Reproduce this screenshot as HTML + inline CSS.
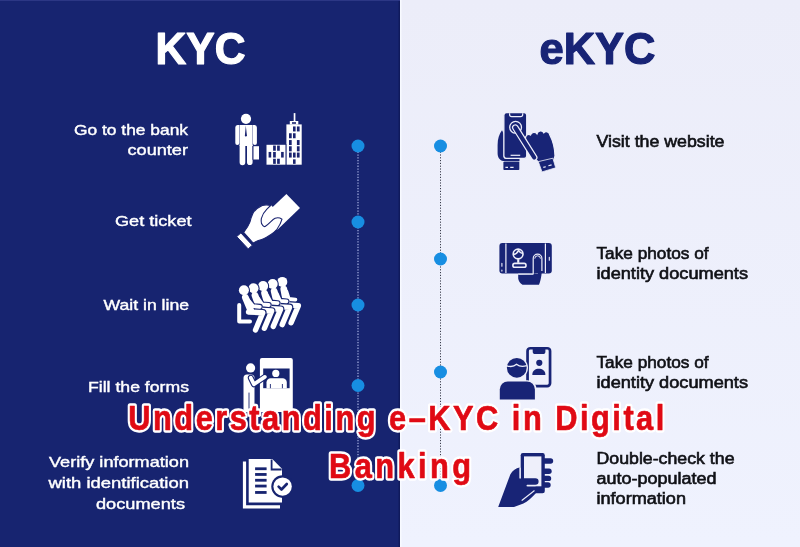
<!DOCTYPE html>
<html><head><meta charset="utf-8">
<style>
html,body{margin:0;padding:0;width:800px;height:547px;overflow:hidden;background:#eeeffa}
svg{position:absolute;left:0;top:0;display:block;will-change:transform}
text{font-family:"Liberation Sans",sans-serif}
</style></head>
<body>
<svg width="800" height="547" viewBox="0 0 800 547">
  <rect x="0" y="0" width="400" height="547" fill="#172470"/>
  <defs><linearGradient id="lg" x1="0" y1="0" x2="0" y2="1"><stop offset="0" stop-color="#ecedf9"/><stop offset="1" stop-color="#eff2fe"/></linearGradient></defs>
  <rect x="400" y="0" width="400" height="547" fill="url(#lg)"/>
  <rect x="398.5" y="0" width="1.5" height="547" fill="#101a5c"/>
  <rect x="400" y="0" width="1.5" height="547" fill="#f8faff"/>
  <rect x="0" y="0" width="400" height="1" fill="#2c3785"/>

  <text x="155.5" y="63.5" font-size="44.5" font-weight="700" fill="#ffffff" stroke="#ffffff" stroke-width="1.2" stroke-linejoin="round" textLength="90" lengthAdjust="spacingAndGlyphs">KYC</text>
  <text x="539.5" y="63.5" font-size="44.5" font-weight="700" fill="#182476" stroke="#182476" stroke-width="1.2" stroke-linejoin="round" textLength="116" lengthAdjust="spacingAndGlyphs">eKYC</text>

  <line x1="358" y1="146" x2="358" y2="485" stroke="#b4bcec" stroke-width="1.1" stroke-dasharray="1.3 1.5"/>
  <line x1="440.5" y1="146" x2="440.5" y2="485" stroke="#3a3d4c" stroke-width="1" stroke-dasharray="1.2 1.6"/>
  <g fill="#178ee2">
    <circle cx="358" cy="146" r="6.5"/>
    <circle cx="358" cy="222" r="6.5"/>
    <circle cx="358" cy="305" r="6.5"/>
    <circle cx="358" cy="385.5" r="6.5"/>
    <circle cx="358" cy="485.5" r="6.5"/>
    <circle cx="440.5" cy="146" r="6.5"/>
    <circle cx="440.5" cy="259" r="6.5"/>
    <circle cx="440.5" cy="372" r="6.5"/>
    <circle cx="440.5" cy="485.5" r="6.5"/>
  </g>

  <g fill="#ffffff" font-size="15" text-anchor="end" stroke="#ffffff" stroke-width="0.4">
    <text x="188" y="134.6" textLength="114" lengthAdjust="spacingAndGlyphs">Go to the bank</text>
    <text x="188" y="155.2" textLength="60.5" lengthAdjust="spacingAndGlyphs">counter</text>
    <text x="191.5" y="226.4" textLength="76.5" lengthAdjust="spacingAndGlyphs">Get ticket</text>
    <text x="189" y="309.8" textLength="85.5" lengthAdjust="spacingAndGlyphs">Wait in line</text>
    <text x="189" y="392.4" textLength="101" lengthAdjust="spacingAndGlyphs">Fill the forms</text>
    <text x="189" y="467.4" textLength="140" lengthAdjust="spacingAndGlyphs">Verify information</text>
    <text x="189" y="488" textLength="140.5" lengthAdjust="spacingAndGlyphs">with identification</text>
    <text x="185" y="508.6" textLength="89" lengthAdjust="spacingAndGlyphs">documents</text>
  </g>

  <g fill="#101116" font-size="16" stroke="#101116" stroke-width="0.6">
    <text x="596.5" y="146.5" textLength="128" lengthAdjust="spacingAndGlyphs">Visit the website</text>
    <text x="596.5" y="258.6" textLength="112" lengthAdjust="spacingAndGlyphs">Take photos of</text>
    <text x="596.5" y="278.9" textLength="151.5" lengthAdjust="spacingAndGlyphs">identity documents</text>
    <text x="596.5" y="367.5" textLength="112" lengthAdjust="spacingAndGlyphs">Take photos of</text>
    <text x="596.5" y="387.8" textLength="151.5" lengthAdjust="spacingAndGlyphs">identity documents</text>
    <text x="596.5" y="463.6" textLength="138" lengthAdjust="spacingAndGlyphs">Double-check the</text>
    <text x="596.5" y="483.9" textLength="120" lengthAdjust="spacingAndGlyphs">auto-populated</text>
    <text x="596.5" y="504.1" textLength="89.5" lengthAdjust="spacingAndGlyphs">information</text>
  </g>

  <!-- icon1: man + buildings -->
  <g fill="#ffffff">
    <circle cx="246" cy="118.8" r="5.1"/>
    <path d="M239.6 125 H252.6 V146 H239.6 Z"/>
    <path d="M237.5 125 H239.3 V143 a2 2 0 0 1 -4 0 V127.5 a2.5 2.5 0 0 1 2.2 -2.5 Z"/>
    <path d="M254.7 125 H252.9 V143 a2 2 0 0 0 4 0 V127.5 a2.5 2.5 0 0 0 -2.2 -2.5 Z"/>
    <path d="M239.6 145 H245.3 V162.3 a2.85 2.85 0 0 1 -5.7 0 Z"/>
    <path d="M247 145 H252.6 V162.3 a2.8 2.8 0 0 1 -5.6 0 Z"/>
    <rect x="253.2" y="146.2" width="5.8" height="13.3"/>
  </g>
  <path d="M245.8 125.5 L244.9 135.2 L245.9 137 L246.9 135.2 Z" fill="#1a2470"/>
  <path d="M252.9 146 V159.8" stroke="#1a2470" stroke-width="0.9"/>
  <g fill="#ffffff">
    <rect x="266.5" y="144.8" width="19.3" height="19.9"/>
    <rect x="286.4" y="124.4" width="15.3" height="40.3"/>
    <rect x="289.8" y="121" width="8.5" height="3.6"/>
    <rect x="293.7" y="113.1" width="1.7" height="8"/>
  </g>
  <g fill="#1a2470">
    <rect x="285.6" y="144" width="0.8" height="21"/>
    <rect x="292" y="122.2" width="4" height="1.6"/>
    <rect x="273.1" y="145.55" width="2.7" height="5.2"/><rect x="277.1" y="145.55" width="2.7" height="5.2"/>
    <rect x="268.6" y="151.95" width="2.6" height="5.6"/><rect x="273.1" y="151.95" width="2.7" height="5.6"/><rect x="281.1" y="151.95" width="2.6" height="5.6"/>
    <rect x="273.1" y="158.75" width="2.7" height="5.1"/><rect x="277.1" y="158.75" width="2.7" height="5.1"/>
    <rect x="293.0" y="126.45" width="2.6" height="5.0"/><rect x="296.9" y="126.45" width="2.7" height="5.0"/>
    <rect x="289.0" y="133.25" width="2.7" height="5.0"/><rect x="293.0" y="133.25" width="2.6" height="5.0"/>
    <rect x="289.0" y="140.05" width="2.7" height="5.0"/><rect x="296.9" y="140.05" width="2.7" height="5.0"/>
    <rect x="289.0" y="146.25" width="2.7" height="5.1"/><rect x="296.9" y="146.25" width="2.7" height="5.1"/>
    <rect x="289.0" y="152.55" width="2.7" height="5.0"/><rect x="293.0" y="152.55" width="2.6" height="5.0"/><rect x="296.9" y="152.55" width="2.7" height="5.0"/>
    <rect x="293.0" y="159.35" width="2.6" height="4.5"/>
  </g>

  <!-- icon2: hand + ticket -->
  <path d="M286.4 194 L300 208.1 L277.4 229.7 L263.8 215.6 Z" fill="#ffffff"/>
  <path d="M261 214 L270.8 205 L278 212 L270 227 L261 227 Z" fill="#ffffff"/>
  <path d="M243.6 232.4 C246 229.5 248.8 225 250 221.9 C250.6 219 251 217.5 253.2 212.8 C255 210 257.8 207.5 262.3 205.5 C265 204.6 268 204.7 270.6 205.5 L266.9 209.1 C264.5 211.5 262.3 214.5 261.4 218.3 C261 221 261.5 224 262.3 224.7 C263 226.2 264.5 226.8 265.1 226.5 C267.5 225 269 223.5 270.6 221.9 C272.5 220 274 218.8 275.1 218.3 C277 217.6 279.5 217.5 282 219.2 C281 223 279 226.5 277 229.3 C275 231.5 273 233.3 270.6 234.7 C268.5 236 266.5 237.3 264.2 238.4 C262 239.4 260 240 257.8 240.7 C256 241.5 254.5 242.3 253.2 243 Z" fill="#ffffff" stroke="#1a2470" stroke-width="1.1" stroke-linejoin="round"/>
  <path d="M236.7 236.6 L240.9 232.9 L252.3 245.2 L248.2 248.9 Z" fill="#ffffff" stroke="#1a2470" stroke-width="1" stroke-linejoin="round"/>

  
<g stroke-linecap="round" stroke-linejoin="round">
<circle cx="282.30" cy="281.90" r="6.10" fill="#172470"/>
<path d="M283.80 289.10 L286.40 303.30" stroke="#172470" stroke-width="9.0" fill="none"/>
<path d="M286.40 291.60 L288.80 299.00 L295.40 299.60" stroke="#172470" stroke-width="6.0" fill="none"/>
<path d="M284.10 304.80 L298.40 305.60 L291.10 322.80" stroke="#172470" stroke-width="7.6000000000000005" fill="none"/>
<circle cx="282.30" cy="281.90" r="5.00" fill="#ffffff"/>
<path d="M283.80 289.10 L286.40 303.30" stroke="#ffffff" stroke-width="6.8" fill="none"/>
<path d="M286.40 291.60 L288.80 299.00 L295.40 299.60" stroke="#ffffff" stroke-width="3.8" fill="none"/>
<path d="M284.10 304.80 L298.40 305.60 L291.10 322.80" stroke="#ffffff" stroke-width="5.4" fill="none"/>
<circle cx="272.70" cy="284.00" r="6.10" fill="#172470"/>
<path d="M274.20 291.20 L277.50 305.10" stroke="#172470" stroke-width="9.0" fill="none"/>
<path d="M276.80 293.70 L279.90 300.80 L286.50 301.40" stroke="#172470" stroke-width="6.0" fill="none"/>
<path d="M275.20 306.60 L289.50 307.40 L282.20 324.60" stroke="#172470" stroke-width="7.6000000000000005" fill="none"/>
<circle cx="272.70" cy="284.00" r="5.00" fill="#ffffff"/>
<path d="M274.20 291.20 L277.50 305.10" stroke="#ffffff" stroke-width="6.8" fill="none"/>
<path d="M276.80 293.70 L279.90 300.80 L286.50 301.40" stroke="#ffffff" stroke-width="3.8" fill="none"/>
<path d="M275.20 306.60 L289.50 307.40 L282.20 324.60" stroke="#ffffff" stroke-width="5.4" fill="none"/>
<circle cx="263.10" cy="286.10" r="6.10" fill="#172470"/>
<path d="M264.60 293.30 L268.60 306.90" stroke="#172470" stroke-width="9.0" fill="none"/>
<path d="M267.20 295.80 L271.00 302.60 L277.60 303.20" stroke="#172470" stroke-width="6.0" fill="none"/>
<path d="M266.30 308.40 L280.60 309.20 L273.30 326.40" stroke="#172470" stroke-width="7.6000000000000005" fill="none"/>
<circle cx="263.10" cy="286.10" r="5.00" fill="#ffffff"/>
<path d="M264.60 293.30 L268.60 306.90" stroke="#ffffff" stroke-width="6.8" fill="none"/>
<path d="M267.20 295.80 L271.00 302.60 L277.60 303.20" stroke="#ffffff" stroke-width="3.8" fill="none"/>
<path d="M266.30 308.40 L280.60 309.20 L273.30 326.40" stroke="#ffffff" stroke-width="5.4" fill="none"/>
<circle cx="253.50" cy="288.20" r="6.10" fill="#172470"/>
<path d="M255.00 295.40 L259.70 308.70" stroke="#172470" stroke-width="9.0" fill="none"/>
<path d="M257.60 297.90 L262.10 304.40 L268.70 305.00" stroke="#172470" stroke-width="6.0" fill="none"/>
<path d="M257.40 310.20 L271.70 311.00 L264.40 328.20" stroke="#172470" stroke-width="7.6000000000000005" fill="none"/>
<circle cx="253.50" cy="288.20" r="5.00" fill="#ffffff"/>
<path d="M255.00 295.40 L259.70 308.70" stroke="#ffffff" stroke-width="6.8" fill="none"/>
<path d="M257.60 297.90 L262.10 304.40 L268.70 305.00" stroke="#ffffff" stroke-width="3.8" fill="none"/>
<path d="M257.40 310.20 L271.70 311.00 L264.40 328.20" stroke="#ffffff" stroke-width="5.4" fill="none"/>
<circle cx="243.90" cy="290.30" r="6.10" fill="#172470"/>
<path d="M245.40 297.50 L250.80 310.50" stroke="#172470" stroke-width="9.0" fill="none"/>
<path d="M248.00 300.00 L253.20 306.20 L259.80 306.80" stroke="#172470" stroke-width="6.0" fill="none"/>
<path d="M248.50 312.00 L262.80 312.80 L255.50 330.00" stroke="#172470" stroke-width="7.6000000000000005" fill="none"/>
<circle cx="243.90" cy="290.30" r="5.00" fill="#ffffff"/>
<path d="M245.40 297.50 L250.80 310.50" stroke="#ffffff" stroke-width="6.8" fill="none"/>
<path d="M248.00 300.00 L253.20 306.20 L259.80 306.80" stroke="#ffffff" stroke-width="3.8" fill="none"/>
<path d="M248.50 312.00 L262.80 312.80 L255.50 330.00" stroke="#ffffff" stroke-width="5.4" fill="none"/>
<path d="M239.2 305 V321.5 H250" stroke="#172470" stroke-width="6.2" fill="none"/>
<path d="M239.2 305 V321.5 H250" stroke="#ffffff" stroke-width="4" fill="none"/>
</g>

  <!-- icon4: fill the forms -->
  <path d="M259.9 360 a2 2 0 0 1 2 -2 H290.8 a2 2 0 0 1 2 2 V412 H259.9 Z" fill="#fff"/>
  <rect x="263.2" y="368.5" width="26.4" height="19.7" fill="#172470"/>
  <path d="M266.5 388.2 V382.5 a4.2 4.2 0 0 1 4.2 -4.2 H282.6 a4.2 4.2 0 0 1 4.2 4.2 V388.2 Z" fill="#fff"/>
  <path d="M270.4 384 V388.2 M282.4 384 V388.2" stroke="#172470" stroke-width="0.9"/>
  <circle cx="275.8" cy="373.4" r="4.5" fill="#172470"/>
  <circle cx="275.8" cy="373.4" r="3.6" fill="#fff"/>
  <circle cx="250.6" cy="367.9" r="4.6" fill="#fff"/>
  <path d="M243.5 378 a3.5 3.5 0 0 1 3.5 -3.5 H251 a3.5 3.5 0 0 1 3.5 3.5 V412 H243.5 Z" fill="#fff"/>
  <path d="M249 392.6 V412" stroke="#172470" stroke-width="0.9"/>
  <path d="M250.8 377.8 L254 384.3 L264.8 376.9" stroke="#172470" stroke-width="6" fill="none" stroke-linecap="round" stroke-linejoin="round"/>
  <path d="M250.8 377.8 L254 384.3 L264.8 376.9" stroke="#fff" stroke-width="3.8" fill="none" stroke-linecap="round" stroke-linejoin="round"/>


  <!-- icon5: documents -->
  <path d="M242.9 461.6 H246.1 V505.2 H280 V508.4 H242.9 Z" fill="#fff"/>
  <path d="M248.7 459.1 H272.3 L282 468.8 V502.6 H248.7 Z" fill="#fff"/>
  <path d="M271.6 459.5 V469.5 H281.6" stroke="#172470" stroke-width="1.8" fill="none"/>
  <g fill="#172470">
    <rect x="255.1" y="467.35" width="11.5" height="2.8"/>
    <rect x="255.1" y="473.05" width="11.5" height="2.8"/>
    <rect x="255.1" y="478.85" width="11.5" height="2.8"/>
    <rect x="255.1" y="484.65" width="11.5" height="2.8"/>
    <rect x="255.1" y="491.05" width="11.5" height="2.8"/>
  </g>
  <circle cx="282.6" cy="486.6" r="11.3" fill="#172470"/>
  <circle cx="282.6" cy="486.6" r="9.2" fill="#fff"/>
  <path d="M278.6 486.6 L281.5 489.5 L286.8 484" stroke="#172470" stroke-width="2.6" fill="none" stroke-linecap="round" stroke-linejoin="round"/>


  <!-- R1: phone tap -->
  <path d="M502 130.3 C499.2 133.8 497.6 139 497.6 145 V153.5 C497.6 158 500.5 161.2 505 161.2 H519.5 V159 H506 C504.5 159 503.5 157.5 503.5 156 V136 C503.5 133.8 503 131.6 502 130.3 Z" fill="#182476"/>
  <rect x="503.9" y="112.7" width="22.8" height="45.6" rx="2.6" fill="#182476" stroke="#eeeffa" stroke-width="1.2"/>
  <path d="M509.6 113.2 V114.6 a2.1 2.1 0 0 0 2.1 2.1 H520.6 a2.1 2.1 0 0 0 2.1 -2.1 V113.2" stroke="#eeeffa" stroke-width="1.2" fill="none"/>
  <path d="M510.6 155.3 H520.2" stroke="#eeeffa" stroke-width="1.2"/>
  <rect x="503.4" y="161.8" width="15.9" height="8.2" rx="0.8" fill="#182476"/>
  <path d="M505.4 167.4 H508 M510.2 167.4 H513.6" stroke="#eeeffa" stroke-width="1.1"/>
  <circle cx="515.6" cy="127.3" r="5.9" fill="none" stroke="#eeeffa" stroke-width="1.3"/>
  <path d="M525.5 139 C525 135.5 528 133.5 530.5 135 C531.5 131.8 535.5 131.5 537 133.8 C538 130.3 542.5 130 543.8 132.8 C545.5 130.8 549.5 131.5 549.8 135 C552.5 140 554.8 148 555 156 L553.5 161 L538.5 162 C535 159.5 532 156 529.5 152 Z" fill="#182476" stroke="#eeeffa" stroke-width="1.2"/>
  <path d="M515.3 127.6 L534.2 157.5" stroke="#eeeffa" stroke-width="6.6" stroke-linecap="round"/>
  <path d="M515.3 127.6 L534.2 157.5" stroke="#182476" stroke-width="4.2" stroke-linecap="round"/>
  <path d="M538.3 161.6 L552.9 158.2 L555.7 167.8 L542 171.9 Z" fill="#182476" stroke="#eeeffa" stroke-width="0.8"/>
  <path d="M543.3 167.4 L545.8 166.7 M548.4 165.8 L551.6 164.9" stroke="#eeeffa" stroke-width="1.1"/>

  <!-- R2: landscape phone -->
  <rect x="499.4" y="242.9" width="52.4" height="30.6" rx="3" fill="#182476"/>
  <path d="M505.9 243.4 V273 M545.4 243.4 V273" stroke="#eeeffa" stroke-width="1.2"/>
  <path d="M501.9 263.2 V266.2 M501.9 270.1 V271.1 M549.3 257.2 V260.2" stroke="#eeeffa" stroke-width="1.1" stroke-linecap="round"/>
  <circle cx="518.1" cy="254" r="4.9" fill="none" stroke="#eeeffa" stroke-width="1.6"/>
  <path d="M513.6 254.6 C515.6 254.2 517.6 252.6 518.6 250.4 C519.6 252.3 521 253.3 522.8 253.6" stroke="#eeeffa" stroke-width="1.5" fill="none"/>
  <rect x="517.2" y="259.2" width="2.1" height="3.6" fill="#eeeffa"/>
  <rect x="512.9" y="263.4" width="13.1" height="3.8" rx="1.8" fill="none" stroke="#eeeffa" stroke-width="1.6"/>
  <path d="M518.2 274.2 V278.6 C518.5 281 520 283.5 522.5 284.8 H539 C540.3 282 541.3 277 541.8 272 V261 H538 V273.8 Z" fill="#182476"/>
  <path d="M518.2 274.2 H533.5" stroke="#eeeffa" stroke-width="1.2"/>
  <path d="M533.2 274 V258.5 a4.35 4.35 0 0 1 8.7 0 V271" fill="#182476" stroke="#eeeffa" stroke-width="1.2"/>
  <path d="M534.8 258.6 a2.8 2.8 0 0 1 5.6 0" stroke="#eeeffa" stroke-width="1" fill="none"/>

  <!-- R3: selfie -->
  <rect x="527.55" y="348.25" width="22.5" height="37.9" rx="2.8" fill="none" stroke="#182476" stroke-width="2.7"/>
  <path d="M532.7 348 H545.4 V351.5 a2.6 2.6 0 0 1 -2.6 2.6 H535.3 a2.6 2.6 0 0 1 -2.6 -2.6 Z" fill="#182476"/>
  <circle cx="539.3" cy="362.8" r="3.1" fill="#182476"/>
  <path d="M532.3 374.9 C532.3 370.5 535.5 368.8 538.8 368.8 C542.2 368.8 545.4 370.5 545.4 374.9 Z" fill="#182476"/>
  <circle cx="516.8" cy="367.8" r="11.2" fill="#eeeffa"/>
  <path d="M498.4 399.8 V389 a8.8 8.8 0 0 1 8.8 -8.8 H527.6 a8.8 8.8 0 0 1 8.8 8.8 V399.8 Z" fill="#eeeffa"/>
  <circle cx="516.8" cy="367.8" r="9.9" fill="#182476"/>
  <path d="M506.8 365.8 C510 366.8 514 366.6 516.5 364.3 C519 366.3 523 366.8 526.8 365.6" stroke="#eeeffa" stroke-width="1.3" fill="none"/>
  <path d="M499.8 399.6 V389.5 a8 8 0 0 1 8 -8 H526.9 a8 8 0 0 1 8 8 V399.6 Z" fill="#182476"/>

  <!-- R4: hand holding phone -->
  <rect x="520.7" y="453.1" width="24.1" height="40.1" rx="2.2" fill="#182476"/>
  <rect x="524" y="456.4" width="17.4" height="29.9" fill="#eeeffa"/>
  <g fill="#182476">
    <path d="M544 458.3 H550.5 a2.7 2.7 0 0 1 0 5.4 H544 Z"/>
    <path d="M544 468.6 H549 a2.7 2.7 0 0 1 0 5.4 H544 Z"/>
    <path d="M544 475.7 H548.5 a2.7 2.7 0 0 1 0 5.4 H544 Z"/>
    <path d="M544 482.3 H548 a2.7 2.7 0 0 1 0 5.4 H544 Z"/>
    <path d="M498.2 507 L510.3 474.5 C512.5 470.5 516 468.3 519.6 467.6 V478.2 H535.3 a3.3 3.3 0 0 1 0 6.6 H527 V486.5 L536 493 C532 497.5 527.5 501.5 523.4 503.5 L514 507 Z"/>
  </g>
  <path d="M520.15 467.8 V478.4 M526.6 485.6 H535.6" stroke="#eeeffa" stroke-width="1.1"/>
  <path d="M534.2 490.8 L522.1 500.3" stroke="#eeeffa" stroke-width="1.1" stroke-linecap="round"/>


  <g font-size="35" font-weight="700" text-anchor="middle" stroke-linejoin="round" transform="scale(0.88,1)">
    <text x="450.34" y="430" textLength="609.1" lengthAdjust="spacing" fill="#fff" stroke="#fff" stroke-width="5" vector-effect="non-scaling-stroke">Understanding e–KYC in Digital</text>
    <text x="454.55" y="478" textLength="161.4" lengthAdjust="spacing" fill="#fff" stroke="#fff" stroke-width="5" vector-effect="non-scaling-stroke">Banking</text>
    <text x="450.34" y="430" textLength="609.1" lengthAdjust="spacing" fill="#e00a14" stroke="#e00a14" stroke-width="0.6" vector-effect="non-scaling-stroke">Understanding e–KYC in Digital</text>
    <text x="454.55" y="478" textLength="161.4" lengthAdjust="spacing" fill="#e00a14" stroke="#e00a14" stroke-width="0.6" vector-effect="non-scaling-stroke">Banking</text>
  </g>
</svg>
</body></html>
